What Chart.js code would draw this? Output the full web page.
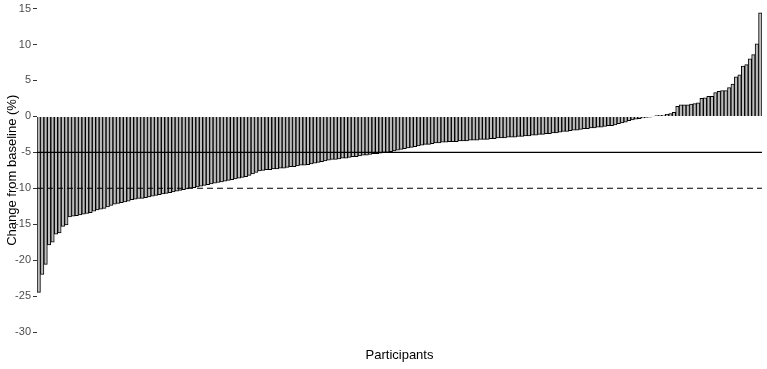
<!DOCTYPE html>
<html>
<head>
<meta charset="utf-8">
<script src="https://cdn.jsdelivr.net/npm/chart.js@4"></script>
<style>
  html, body { margin: 0; padding: 0; background: #fff; }
  #wrap { width: 767px; height: 369px; }
</style>
</head>
<body>
<div id="wrap"><canvas id="chart" width="767" height="369"></canvas></div>
<script>
// --- Data (sorted change from baseline per participant, %) ---
const changeValues = [
    -24.5, -22.0, -20.6, -17.9, -17.5, -16.4, -16.2, -15.3, -15.1, -14.0,
    -13.9, -13.8, -13.7, -13.6, -13.5, -13.4, -13.2, -13.0, -12.9, -12.8,
    -12.6, -12.4, -12.2, -12.1, -12.0, -11.9, -11.8, -11.6, -11.5,
    -11.4, -11.4, -11.3, -11.2, -11.1, -11.0, -10.9, -10.8, -10.7, -10.6,
    -10.5, -10.4, -10.3, -10.2, -10.1, -10.0, -9.9, -9.8, -9.7, -9.6,
    -9.5, -9.4, -9.3, -9.2, -9.1, -9.0, -8.9, -8.8, -8.7, -8.6, -8.5,
    -8.4, -8.2, -8.0, -7.8, -7.6, -7.5, -7.4, -7.4, -7.3, -7.3, -7.2,
    -7.2, -7.1, -7.0, -7.0, -6.9, -6.8, -6.8, -6.7, -6.6, -6.5, -6.4, -6.3, -6.2, -6.1,
    -6.0, -6.0, -5.9, -5.8, -5.8, -5.7, -5.6, -5.6, -5.5, -5.4, -5.4, -5.3, -5.2,
    -5.2, -5.1, -5.0, -5.0, -4.9, -4.8, -4.7, -4.6,
    -4.5, -4.4, -4.3, -4.2, -4.1, -4.0, -3.9, -3.9, -3.8, -3.7,
    -3.7, -3.6, -3.6, -3.5, -3.5, -3.5, -3.4, -3.4,
    -3.4, -3.3, -3.3, -3.3, -3.2, -3.2, -3.2, -3.1, -3.1, -3.0, -3.0, -3.0,
    -2.9, -2.9, -2.9, -2.8, -2.8,
    -2.7, -2.7, -2.6, -2.6, -2.5, -2.5, -2.4, -2.4, -2.3, -2.3, -2.2, -2.1,
    -2.1, -2.0, -1.9, -1.9,
    -1.8, -1.7, -1.7, -1.6, -1.6, -1.5, -1.5, -1.4, -1.3, -1.3,
    -1.2, -1.0, -0.9, -0.8, -0.6, -0.5,
    -0.4, -0.3, -0.2, -0.15, -0.1,
    0.05, 0.1, 0.15, 0.2, 0.3, 0.4, 0.55, 1.4, 1.6, 1.6,
    1.6, 1.7, 1.8, 1.9, 2.5, 2.6, 2.8, 2.8, 3.3, 3.5,
    3.6, 3.6, 4.0, 4.5, 5.5, 5.8, 7.0, 7.2, 8.0, 8.6,
    10.1, 14.4
];
const participants = changeValues.map((v, i) => 'P' + (i + 1));
const yTicks = [15, 10, 5, 0, -5, -10, -15, -20, -25, -30];
const refSolid = -5;
const refDashed = -10;

// --- Reference lines plugin ---
const refLines = {
    id: 'refLines',
    afterDatasetsDraw(chart) {
        const ctx = chart.ctx;
        const area = chart.chartArea;
        const y = chart.scales.y;
        ctx.save();
        ctx.strokeStyle = '#000';
        ctx.lineWidth = 1.2;
        // solid line
        let py = y.getPixelForValue(refSolid);
        ctx.beginPath();
        ctx.moveTo(area.left, py);
        ctx.lineTo(area.right, py);
        ctx.stroke();
        // dashed line
        py = y.getPixelForValue(refDashed);
        ctx.setLineDash([6, 4]);
        ctx.beginPath();
        ctx.moveTo(area.left, py);
        ctx.lineTo(area.right, py);
        ctx.stroke();
        ctx.restore();
    }
};

new Chart(document.getElementById('chart'), {
    type: 'bar',
    data: {
        labels: participants,
        datasets: [{
            data: changeValues,
            backgroundColor: '#bdbdbd',
            borderColor: '#000',
            borderWidth: 1,
            barPercentage: 1,
            categoryPercentage: 1
        }]
    },
    options: {
        responsive: false,
        animation: false,
        layout: { padding: { top: 8, right: 5, left: 0, bottom: 0 } },
        plugins: { legend: { display: false }, tooltip: { enabled: false } },
        scales: {
            x: {
                ticks: { display: false },
                grid: { display: false },
                border: { display: false },
                title: {
                    display: true,
                    text: 'Participants',
                    color: '#000',
                    font: { family: 'Liberation Sans, Arial, sans-serif', size: 13 },
                    padding: { top: 0, bottom: 6 }
                },
                afterFit(scale) { scale.height = 37; }
            },
            y: {
                min: -30,
                max: 15,
                afterBuildTicks(scale) { scale.ticks = yTicks.map(v => ({ value: v })); },
                ticks: {
                    color: '#4d4d4d',
                    font: { family: 'Liberation Sans, Arial, sans-serif', size: 11 },
                    padding: 2
                },
                grid: { display: true, drawOnChartArea: false, drawTicks: true, tickLength: 4, color: '#333' },
                border: { display: false },
                title: {
                    display: true,
                    text: 'Change from baseline (%)',
                    color: '#000',
                    font: { family: 'Liberation Sans, Arial, sans-serif', size: 13 },
                    padding: { top: 5, bottom: 0 }
                },
                afterFit(scale) { scale.width = 37; }
            }
        }
    },
    plugins: [refLines]
});
</script>
</body>
</html>
